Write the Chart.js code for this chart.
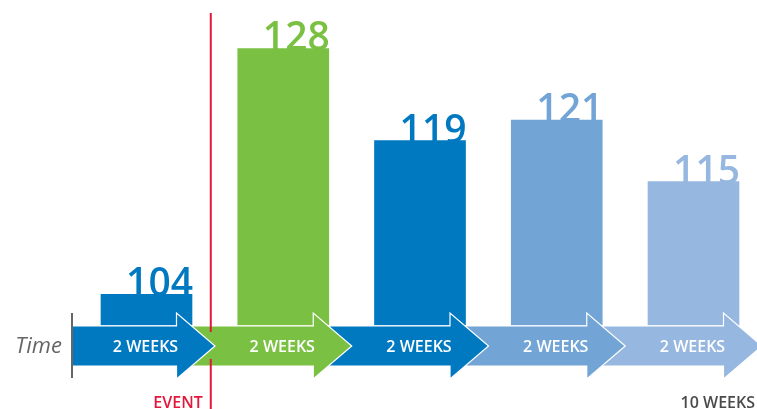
<!DOCTYPE html>
<html>
<head>
<meta charset="utf-8">
<script src="https://cdn.jsdelivr.net/npm/chart.js@4"></script>
<style>
  html, body { margin: 0; padding: 0; background: #fff; }
  canvas { display: block; }
</style>
</head>
<body>
<canvas id="chart" width="757" height="409"></canvas>
<script>
// Chart data
const periods = ['2 WEEKS', '2 WEEKS', '2 WEEKS', '2 WEEKS', '2 WEEKS'];
const counts = [104, 128, 119, 121, 115];
const barColors = ['#0079c1', '#7ac143', '#0079c1', '#72a5d6', '#96b7e0'];
const axisTitle = 'Time';
const eventLabel = 'EVENT';
const totalLabel = '10 WEEKS';

const FONT = '"Open Sans", "Noto Sans", sans-serif';
const Y_MIN = 101;

// Draw one timeline arrow
function drawArrow(ctx, x0, tip, cy, color) {
    const headStart = tip - 38.5;
    ctx.beginPath();
    ctx.moveTo(x0, cy - 20);
    ctx.lineTo(headStart, cy - 20);
    ctx.lineTo(headStart, cy - 33);
    ctx.lineTo(tip, cy);
    ctx.lineTo(headStart, cy + 33);
    ctx.lineTo(headStart, cy + 20);
    ctx.lineTo(x0, cy + 20);
    ctx.closePath();
    ctx.fillStyle = color;
    ctx.fill();
    ctx.strokeStyle = '#ffffff';
    ctx.lineWidth = 1.2;
    ctx.stroke();
}

// Value labels sit behind the bars, right aligned to each bar
const valueLabels = {
    id: 'valueLabels',
    beforeDatasetsDraw(chart) {
        const ctx = chart.ctx;
        const meta = chart.getDatasetMeta(0);
        ctx.save();
        ctx.font = '600 39px ' + FONT;
        ctx.textAlign = 'right';
        ctx.textBaseline = 'alphabetic';
        meta.data.forEach((bar, i) => {
            ctx.fillStyle = barColors[i];
            ctx.fillText(String(counts[i]), bar.x + bar.width / 2 + 1, bar.y + 2);
        });
        ctx.restore();
    }
};

// Timeline arrows, event marker and captions
const timeline = {
    id: 'timeline',
    afterDatasetsDraw(chart) {
        const ctx = chart.ctx;
        const xs = chart.scales.x;
        const area = chart.chartArea;
        const cy = area.bottom + 21;
        const step = xs.getPixelForValue(1) - xs.getPixelForValue(0);

        ctx.save();
        // arrows, last one first so each head overlaps the next band
        for (let i = periods.length - 1; i >= 0; i--) {
            const c = xs.getPixelForValue(i);
            const start = i === 0 ? c - 74.5 : c - 107;
            drawArrow(ctx, start, c + 68.5, cy, barColors[i]);
        }
        ctx.font = '600 16px ' + FONT;
        ctx.fillStyle = '#ffffff';
        ctx.textAlign = 'center';
        ctx.textBaseline = 'middle';
        periods.forEach((p, i) => {
            ctx.fillText(p, xs.getPixelForValue(i) - 1, cy + 1);
        });

        // axis title and start tick
        const x0 = xs.getPixelForValue(0) - 74.5;
        ctx.strokeStyle = '#666666';
        ctx.lineWidth = 2;
        ctx.beginPath();
        ctx.moveTo(x0, cy - 33);
        ctx.lineTo(x0, cy + 32);
        ctx.stroke();
        ctx.font = 'italic 22px ' + FONT;
        ctx.fillStyle = '#666666';
        ctx.textAlign = 'right';
        ctx.fillText(axisTitle, x0 - 10, cy + 1);

        // event line
        const ex = xs.getPixelForValue(0) + step * 0.47;
        ctx.strokeStyle = '#e2183b';
        ctx.lineWidth = 2;
        ctx.beginPath();
        ctx.moveTo(ex, 13);
        ctx.lineTo(ex, cy - 14);
        ctx.moveTo(ex, cy + 13);
        ctx.lineTo(ex, chart.height);
        ctx.stroke();
        ctx.font = '600 16px ' + FONT;
        ctx.fillStyle = '#e2183b';
        ctx.textAlign = 'right';
        ctx.fillText(eventLabel, ex - 8, 403);

        ctx.fillStyle = '#4a4a4a';
        ctx.fillText(totalLabel, chart.width - 2, 403);
        ctx.restore();
    }
};

new Chart(document.getElementById('chart').getContext('2d'), {
    type: 'bar',
    data: {
        labels: periods.map((p, i) => 'P' + (i + 1)),
        datasets: [{
            data: counts,
            backgroundColor: barColors,
            base: Y_MIN,
            barThickness: 91,
            borderWidth: 0,
            clip: false
        }]
    },
    options: {
        responsive: false,
        animation: false,
        devicePixelRatio: 1,
        layout: {
            padding: { left: 146.5, right: 63.5, top: 28, bottom: 84 }
        },
        scales: {
            x: { display: false, offset: false },
            y: { display: false, min: Y_MIN, max: 130 }
        },
        plugins: {
            legend: { display: false },
            tooltip: { enabled: false }
        }
    },
    plugins: [valueLabels, timeline]
});
</script>
</body>
</html>
